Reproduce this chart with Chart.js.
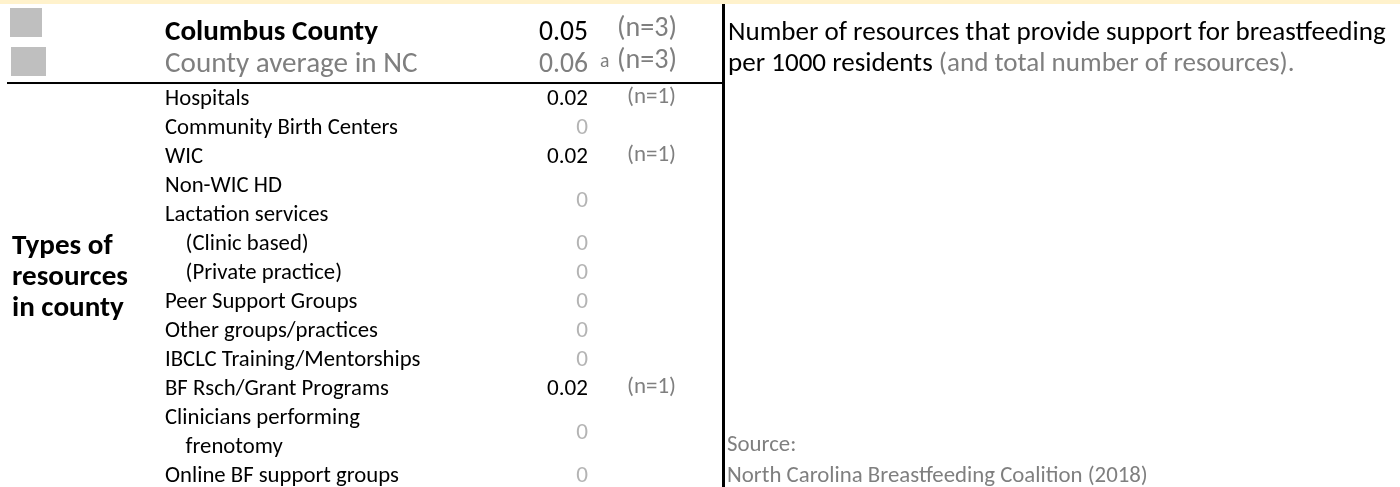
<!DOCTYPE html>
<html>
<head>
<meta charset="utf-8">
<script src="https://cdn.jsdelivr.net/npm/chart.js@4.4.1/dist/chart.umd.min.js"></script>
<style>
  html, body { margin: 0; padding: 0; background: #fff; }
  #wrap { width: 1400px; height: 487px; }
</style>
</head>
<body>
<div id="wrap"><canvas id="chart" width="1400" height="487"></canvas></div>
<script>
// header rows
const countyName = 'Columbus County';
const stateName = 'County average in NC';
const headerRates = [0.05, 0.06];
const headerCounts = [3, 3];

// resource types (label lines as shown in the table)
const categories = [
    'Hospitals', 'Community Birth Centers', 'WIC', 'Non-WIC HD',
    '(Clinic based)', '(Private practice)', 'Peer Support Groups',
    'Other groups/practices', 'IBCLC Training/Mentorships',
    'BF Rsch/Grant Programs', 'Clinicians performing frenotomy',
    'Online BF support groups'
];
const labelLines = [
    ['Hospitals'], ['Community Birth Centers'], ['WIC'],
    ['Non-WIC HD', 'Lactation services'],
    ['    (Clinic based)'], ['    (Private practice)'],
    ['Peer Support Groups'], ['Other groups/practices'],
    ['IBCLC Training/Mentorships'], ['BF Rsch/Grant Programs'],
    ['Clinicians performing', '    frenotomy'],
    ['Online BF support groups']
];
const rates = [0.02, 0, 0.02, 0, 0, 0, 0, 0, 0, 0.02, 0, 0];
const counts = [1, null, 1, null, null, null, null, null, null, 1, null, null];

const sideTitle = ['Types of', 'resources', 'in county'];
const noteLine1 = 'Number of resources that provide support for breastfeeding';
const noteLine2a = 'per 1000 residents';
const noteLine2b = ' (and total number of resources).';
const sourceLines = ['Source:', 'North Carolina Breastfeeding Coalition (2018)'];

(function () {
    'use strict';

    const FAM = "Carlito, Lato, 'Open Sans', sans-serif";
    const GRAY = '#7f7f7f';
    const ZERO = '#b4b4b4';

    // line index where each category starts, value sits mid-span
    const starts = [];
    let acc = 0;
    labelLines.forEach(function (l) { starts.push(acc); acc += l.length; });
    const centers = starts.map(function (s, i) { return s + (labelLines[i].length - 1) / 2; });

    function fmt(v) {
        return v === 0 ? '0' : v.toFixed(2);
    }

    let sizes = null;
    function fit(ctx, text, weight, target) {
        ctx.font = weight + ' 100px ' + FAM;
        return 100 * target / ctx.measureText(text).width;
    }
    function font(weight, size) {
        return weight + ' ' + size.toFixed(2) + 'px ' + FAM;
    }

    const tablePlugin = {
        id: 'tablePlugin',
        beforeDraw: function (chart) {
            const ctx = chart.ctx;
            ctx.save();
            ctx.fillStyle = '#fff';
            ctx.fillRect(0, 0, chart.width, chart.height);
            ctx.fillStyle = '#fff2cc';
            ctx.fillRect(0, 0, chart.width, 4);
            ctx.restore();
        },
        afterDraw: function (chart) {
            const ctx = chart.ctx;
            const ys = chart.scales.y;
            const xs = chart.scales.x;
            const X = function (v) { return xs.getPixelForValue(v); };
            const Y = function (v) { return ys.getPixelForValue(v); };
            if (!sizes) {
                sizes = {
                    head: fit(ctx, countyName, 'bold', 213),
                    label: fit(ctx, 'Community Birth Centers', 'normal', 233),
                    side: fit(ctx, 'resources', 'bold', 116),
                    note: fit(ctx, noteLine1, 'normal', 658),
                    source: fit(ctx, sourceLines[1], 'normal', 421),
                    headVal: fit(ctx, '0.05', 'normal', 49),
                    val: fit(ctx, '0.02', 'normal', 41),
                    headN: fit(ctx, '(n=3)', 'normal', 60),
                    n: fit(ctx, '(n=1)', 'normal', 49)
                };
            }
            ctx.save();
            ctx.textBaseline = 'alphabetic';

            // legend swatches
            ctx.fillStyle = '#bfbfbf';
            ctx.fillRect(10, 8, 32, 29);
            ctx.fillRect(11, 47, 35, 29);

            // rules
            ctx.fillStyle = '#000';
            ctx.fillRect(7, Y(-0.793), 717, 2);
            ctx.fillRect(722, 4, 3, chart.height - 4);

            // header rows
            const headY = [Y(-2.241), Y(-1.138)];
            ctx.textAlign = 'left';
            ctx.font = font('bold', sizes.head);
            ctx.fillStyle = '#000';
            ctx.fillText(countyName, X(165), headY[0]);
            ctx.font = font('normal', sizes.head);
            ctx.fillStyle = GRAY;
            ctx.fillText(stateName, X(165), headY[1]);

            ctx.textAlign = 'right';
            ctx.font = font('normal', sizes.headVal);
            ctx.fillStyle = '#000';
            ctx.fillText(fmt(headerRates[0]), X(588), headY[0]);
            ctx.fillStyle = GRAY;
            ctx.fillText(fmt(headerRates[1]), X(588), headY[1]);
            ctx.textAlign = 'left';
            ctx.font = font('normal', sizes.val * 0.85);
            ctx.fillText('a', X(600), headY[1] - 5);
            ctx.font = font('normal', sizes.headN);
            headerCounts.forEach(function (c, i) {
                ctx.fillText('(n=' + c + ')', X(617), headY[i] - 4);
            });

            // resource rows
            const meta = chart.getDatasetMeta(0);
            labelLines.forEach(function (lines, i) {
                ctx.textAlign = 'left';
                ctx.fillStyle = '#000';
                ctx.font = font('normal', sizes.label);
                lines.forEach(function (t, k) {
                    ctx.fillText(t, X(165), Y(starts[i] + k));
                });
                const yv = meta.data[i].y;
                ctx.textAlign = 'right';
                ctx.font = font('normal', sizes.val);
                ctx.fillStyle = rates[i] === 0 ? ZERO : '#000';
                ctx.fillText(fmt(rates[i]), X(588), yv);
                if (counts[i] != null) {
                    ctx.textAlign = 'left';
                    ctx.fillStyle = GRAY;
                    ctx.font = font('normal', sizes.n);
                    ctx.fillText('(n=' + counts[i] + ')', X(627), yv - 2);
                }
            });

            // side title
            ctx.textAlign = 'left';
            ctx.fillStyle = '#000';
            ctx.font = font('bold', sizes.side);
            sideTitle.forEach(function (t, k) {
                ctx.fillText(t, X(12), Y(5.138 + k * 1.076));
            });

            // note
            ctx.font = font('normal', sizes.note);
            ctx.fillStyle = '#000';
            ctx.fillText(noteLine1, X(728), Y(-2.241));
            ctx.fillText(noteLine2a, X(728), Y(-1.172));
            const w = ctx.measureText(noteLine2a).width;
            ctx.fillStyle = GRAY;
            ctx.fillText(noteLine2b, X(728) + w, Y(-1.172));

            // source
            ctx.font = font('normal', sizes.source);
            ctx.fillStyle = GRAY;
            ctx.fillText(sourceLines[0], X(727), Y(11.931));
            ctx.fillText(sourceLines[1], X(727), Y(13.0));
            ctx.restore();
        }
    };

    function run() {
        const canvas = document.getElementById('chart');
        new Chart(canvas, {
            type: 'bar',
            data: {
                datasets: [{
                    label: countyName,
                    data: rates.map(function (r, i) { return { x: r, y: centers[i] }; }),
                    backgroundColor: 'rgba(0,0,0,0)',
                    borderWidth: 0
                }]
            },
            options: {
                indexAxis: 'y',
                responsive: false,
                animation: false,
                devicePixelRatio: 1,
                layout: { padding: 0, autoPadding: false },
                plugins: { legend: { display: false }, tooltip: { enabled: false } },
                scales: {
                    x: { type: 'linear', display: false, offset: false, min: 0, max: 1400 },
                    y: { type: 'linear', display: false, offset: false, reverse: true, min: -3.621, max: 13.172 }
                }
            },
            plugins: [tablePlugin]
        });
    }

    if (document.readyState === 'loading') {
        document.addEventListener('DOMContentLoaded', run);
    } else {
        run();
    }
})();
</script>
</body>
</html>
